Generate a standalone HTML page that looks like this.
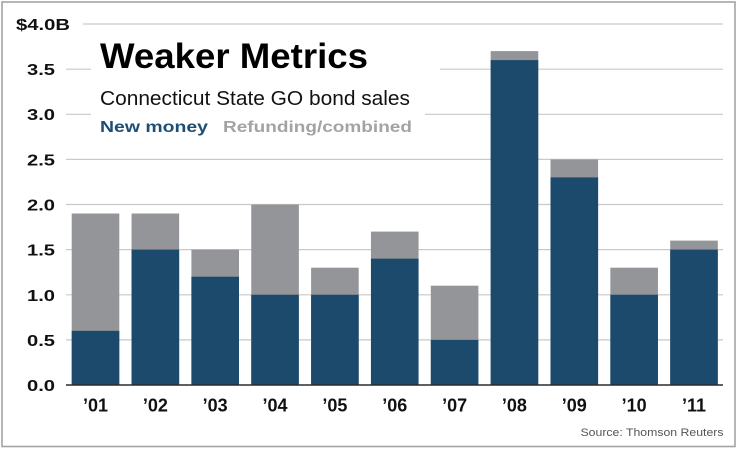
<!DOCTYPE html>
<html>
<head>
<meta charset="utf-8">
<style>
  html, body { margin:0; padding:0; background:#ffffff; }
  body { width:740px; height:450px; overflow:hidden; }
  svg { display:block; font-family:"Liberation Sans", Arial, sans-serif; }
</style>
</head>
<body>
<svg width="740" height="450" viewBox="0 0 740 450" xmlns="http://www.w3.org/2000/svg">
  <rect x="0" y="0" width="740" height="450" fill="#ffffff"/>
  <!-- frame -->
  <rect x="2" y="2" width="733" height="444.5" fill="none" stroke="#a3a3a3" stroke-width="1.6"/>

  <!-- gridlines -->
  <g stroke="#c9c9c9" stroke-width="1.2">
    <line x1="83" y1="24" x2="723" y2="24"/>
    <line x1="66" y1="69.2" x2="91" y2="69.2"/>
    <line x1="440" y1="69.2" x2="723" y2="69.2"/>
    <line x1="66" y1="114.3" x2="91" y2="114.3"/>
    <line x1="425" y1="114.3" x2="723" y2="114.3"/>
    <line x1="66" y1="159.4" x2="723" y2="159.4"/>
    <line x1="66" y1="204.5" x2="723" y2="204.5"/>
    <line x1="66" y1="249.6" x2="723" y2="249.6"/>
    <line x1="66" y1="294.8" x2="723" y2="294.8"/>
    <line x1="66" y1="339.9" x2="723" y2="339.9"/>
  </g>

  <!-- bars: gray (total) then navy (new money) -->
  <g fill="#939598">
    <rect x="71.7"  y="213.5" width="47.6" height="171.5"/>
    <rect x="131.55" y="213.5" width="47.6" height="171.5"/>
    <rect x="191.4" y="249.6" width="47.6" height="135.4"/>
    <rect x="251.25" y="204.5" width="47.6" height="180.5"/>
    <rect x="311.1" y="267.7" width="47.6" height="117.3"/>
    <rect x="370.95" y="231.6" width="47.6" height="153.4"/>
    <rect x="430.8" y="285.7" width="47.6" height="99.3"/>
    <rect x="490.65" y="51.1" width="47.6" height="333.9"/>
    <rect x="550.5" y="159.4" width="47.6" height="225.6"/>
    <rect x="610.35" y="267.7" width="47.6" height="117.3"/>
    <rect x="670.2" y="240.6" width="47.6" height="144.4"/>
  </g>
  <g fill="#1c4a6c">
    <rect x="71.7"  y="330.85" width="47.6" height="54.15"/>
    <rect x="131.55" y="249.6" width="47.6" height="135.4"/>
    <rect x="191.4" y="276.7" width="47.6" height="108.3"/>
    <rect x="251.25" y="294.75" width="47.6" height="90.25"/>
    <rect x="311.1" y="294.75" width="47.6" height="90.25"/>
    <rect x="370.95" y="258.65" width="47.6" height="126.35"/>
    <rect x="430.8" y="339.9" width="47.6" height="45.1"/>
    <rect x="490.65" y="60.1" width="47.6" height="324.9"/>
    <rect x="550.5" y="177.4" width="47.6" height="207.6"/>
    <rect x="610.35" y="294.75" width="47.6" height="90.25"/>
    <rect x="670.2" y="249.6" width="47.6" height="135.4"/>
  </g>

  <!-- baseline -->
  <line x1="66" y1="385" x2="723" y2="385" stroke="#2b2b2b" stroke-width="1.6"/>

  <!-- y labels -->
  <g font-weight="bold" font-size="16" fill="#111" text-anchor="end">
    <text x="70" y="30" textLength="54" lengthAdjust="spacingAndGlyphs">$4.0B</text>
    <text x="55" y="75" textLength="28" lengthAdjust="spacingAndGlyphs">3.5</text>
    <text x="55" y="120" textLength="28" lengthAdjust="spacingAndGlyphs">3.0</text>
    <text x="55" y="165.4" textLength="28" lengthAdjust="spacingAndGlyphs">2.5</text>
    <text x="55" y="210.5" textLength="28" lengthAdjust="spacingAndGlyphs">2.0</text>
    <text x="55" y="255.6" textLength="28" lengthAdjust="spacingAndGlyphs">1.5</text>
    <text x="55" y="300.8" textLength="28" lengthAdjust="spacingAndGlyphs">1.0</text>
    <text x="55" y="345.9" textLength="28" lengthAdjust="spacingAndGlyphs">0.5</text>
    <text x="55" y="391" textLength="28" lengthAdjust="spacingAndGlyphs">0.0</text>
  </g>

  <!-- x labels -->
  <g font-weight="bold" font-size="18" fill="#111" text-anchor="middle">
    <text x="95.5" y="411.5">’01</text>
    <text x="155.35" y="411.5">’02</text>
    <text x="215.2" y="411.5">’03</text>
    <text x="275.05" y="411.5">’04</text>
    <text x="334.9" y="411.5">’05</text>
    <text x="394.75" y="411.5">’06</text>
    <text x="454.6" y="411.5">’07</text>
    <text x="514.45" y="411.5">’08</text>
    <text x="574.3" y="411.5">’09</text>
    <text x="634.15" y="411.5">’10</text>
    <text x="694" y="411.5">’11</text>
  </g>

  <!-- title block -->
  <text x="100" y="68" font-size="35" font-weight="bold" fill="#000" textLength="268" lengthAdjust="spacingAndGlyphs">Weaker Metrics</text>
  <text x="100" y="105" font-size="20.5" fill="#111" textLength="310" lengthAdjust="spacingAndGlyphs">Connecticut State GO bond sales</text>
  <text x="100" y="132" font-size="15.5" font-weight="bold" fill="#1d4f75" textLength="108" lengthAdjust="spacingAndGlyphs">New money</text>
  <text x="223" y="132" font-size="15.5" font-weight="bold" fill="#a3a3a3" textLength="189" lengthAdjust="spacingAndGlyphs">Refunding/combined</text>

  <!-- source -->
  <text x="723.5" y="436" font-size="11" fill="#555" text-anchor="end" textLength="143" lengthAdjust="spacingAndGlyphs">Source: Thomson Reuters</text>
</svg>
</body>
</html>
